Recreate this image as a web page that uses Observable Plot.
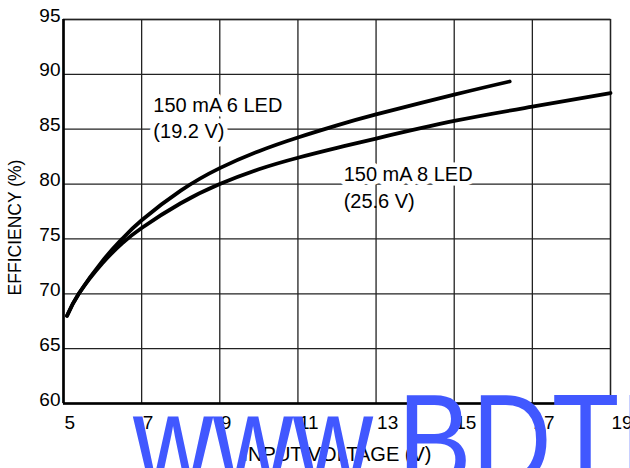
<!DOCTYPE html>
<html>
<head>
<meta charset="utf-8">
<script src="https://cdn.jsdelivr.net/npm/d3@7"></script>
<script src="https://cdn.jsdelivr.net/npm/@observablehq/plot@0.6"></script>
<style>
  html, body { margin: 0; padding: 0; background: #fff; }
  #wrap { position: relative; width: 630px; height: 468px; overflow: hidden; }
  #wm { position: absolute; left: 0; top: 0; pointer-events: none; }
</style>
</head>
<body>
<div id="wrap"></div>
<script>
// ---- data ----
const xDomain = [5, 19];
const yDomain = [60, 95];
const xTicks = [5, 7, 9, 11, 13, 15, 17, 19];
const yTicks = [60, 65, 70, 75, 80, 85, 90, 95];

const seriesNames = ["150 mA 6 LED", "150 mA 8 LED"];
const voltage6 = [5.09, 5.39, 6.0, 6.5, 7.0, 8.0, 9.0, 10.0, 11.0, 12.0, 13.0, 15.0, 16.42];
const eff6     = [68.0, 70.0, 73.0, 75.0, 76.7, 79.4, 81.45, 83.0, 84.25, 85.35, 86.35, 88.15, 89.35];
const voltage8 = [5.09, 5.39, 6.0, 6.5, 7.0, 8.0, 9.0, 10.0, 11.0, 12.0, 13.0, 15.0, 17.0, 19.0];
const eff8     = [68.0, 70.0, 72.8, 74.6, 76.0, 78.25, 80.0, 81.35, 82.4, 83.3, 84.15, 85.75, 87.05, 88.3];

const labelText = ["150 mA 6 LED", "(19.2 V)", "150 mA 8 LED", "(25.6 V)"];
const labelX    = [7.30, 7.30, 12.17, 12.17];
const labelY    = [87.82, 85.45, 81.62, 79.07];
const labelHalo = [true, true, true, false];

const xTitle = "INPUT VOLTAGE (V)";
const yTitle = "EFFICIENCY (%)";
const watermark = "www.BDTIC.com";

// ---- build tables ----
const rows = [
  ...voltage6.map((v, i) => ({series: seriesNames[0], v, e: eff6[i]})),
  ...voltage8.map((v, i) => ({series: seriesNames[1], v, e: eff8[i]}))
];
const labels = labelText.map((t, i) => ({t, x: labelX[i], y: labelY[i], halo: labelHalo[i]}));

const gridStyle = {stroke: "#222", strokeOpacity: 1, strokeWidth: 1.3};

const chart = Plot.plot({
  width: 630,
  height: 468,
  marginLeft: 63,
  marginRight: 20,
  marginTop: 19,
  marginBottom: 65,
  x: {domain: xDomain},
  y: {domain: yDomain},
  style: {fontFamily: "'Liberation Sans', Arial, sans-serif", fontSize: "19px", color: "black", background: "white", overflow: "visible"},
  marks: [
    Plot.gridX(xTicks, gridStyle),
    Plot.gridY(yTicks, gridStyle),
    Plot.frame({stroke: "#222", strokeWidth: 1.3}),
    Plot.ruleX([xDomain[0]], {stroke: "black", strokeWidth: 2.6}),
    Plot.ruleY([yDomain[0]], {stroke: "black", strokeWidth: 2.6}),
    Plot.axisX(xTicks, {tickSize: 0, tickPadding: 12, textAnchor: "start", dx: 1, label: null, fontSize: 19}),
    Plot.axisY(yTicks, {tickSize: 0, tickPadding: 3, dy: -4, label: null, fontSize: 19}),
    Plot.text([xTitle], {frameAnchor: "bottom", dy: 57, textAnchor: "middle", lineAnchor: "bottom", fontSize: 20}),
    Plot.text([yTitle], {frameAnchor: "left", rotate: -90, dx: -48, dy: 16, textAnchor: "middle", lineAnchor: "middle", fontSize: 17.5}),
    Plot.line(rows, {x: "v", y: "e", z: "series", curve: "natural", stroke: "black", strokeWidth: 3.8, strokeLinecap: "round"}),
    Plot.text(labels.filter(d => d.halo), {x: "x", y: "y", text: "t", textAnchor: "start", lineAnchor: "top", fontSize: 20, fill: "black", stroke: "white", strokeWidth: 9}),
    Plot.text(labels.filter(d => !d.halo), {x: "x", y: "y", text: "t", textAnchor: "start", lineAnchor: "top", fontSize: 20, fill: "black"})
  ]
});
const wrap = document.getElementById("wrap");
wrap.appendChild(chart);

// watermark overlay
const ns = "http://www.w3.org/2000/svg";
const wm = document.createElementNS(ns, "svg");
wm.setAttribute("id", "wm");
wm.setAttribute("width", 630);
wm.setAttribute("height", 468);
const t = document.createElementNS(ns, "text");
t.setAttribute("transform", "translate(133,486) scale(0.84,1)");
t.setAttribute("font-family", "'Liberation Sans', Arial, sans-serif");
t.setAttribute("font-size", "132");
t.setAttribute("fill", "#4158ff");
t.textContent = watermark;
wm.appendChild(t);
wrap.appendChild(wm);
</script>
</body>
</html>
